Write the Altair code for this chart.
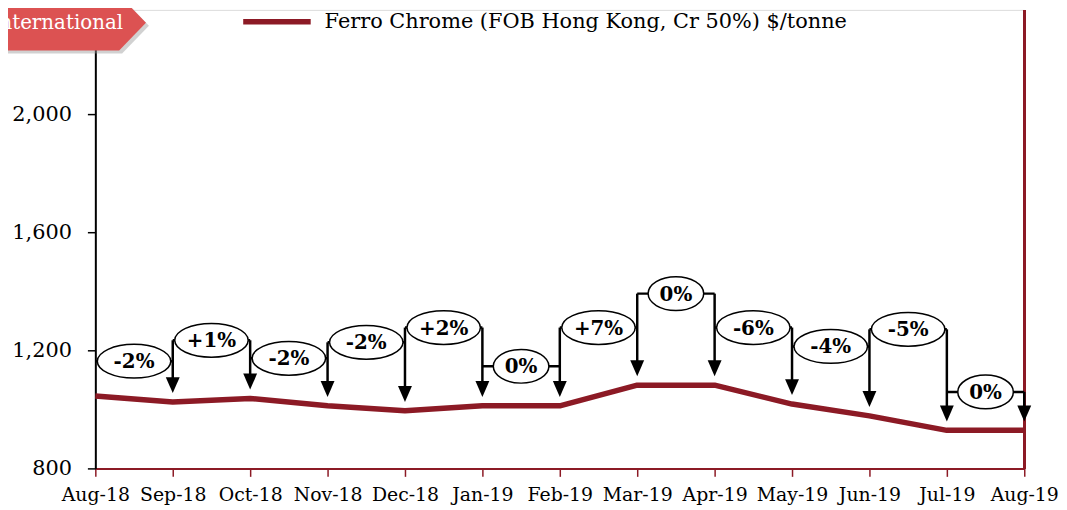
import json
import altair as alt
import pandas as pd

# ---------------- data ----------------
months = ["Aug-18", "Sep-18", "Oct-18", "Nov-18", "Dec-18", "Jan-19", "Feb-19",
          "Mar-19", "Apr-19", "May-19", "Jun-19", "Jul-19", "Aug-19"]
prices = [1045, 1025, 1037, 1012, 995, 1012, 1012, 1082, 1082, 1018, 978, 929, 929]
change_labels = ["-2%", "+1%", "-2%", "-2%", "+2%", "0%", "+7%", "0%", "-6%", "-4%", "-5%", "0%"]
bracket_levels = [1163, 1234, 1173, 1227, 1277, 1146, 1277, 1392, 1277, 1213, 1271, 1059]
y_ticks = [800, 1200, 1600, 2000]
series_name = "Ferro Chrome (FOB Hong Kong, Cr 50%) $/tonne"
tab_text = "International"

idx = list(range(len(months)))
line_df = pd.DataFrame({"idx": idx, "month": months, "price": prices})

br_df = pd.DataFrame({
    "start": idx[:-1],
    "end": idx[1:],
    "mid": [i + 0.5 for i in idx[:-1]],
    "level": bracket_levels,
    "label": change_labels,
})
br_df["wide"] = br_df["label"].str.len() > 2

arrow_rows = []
for i in idx[1:]:
    tops = [bracket_levels[i - 1]] + ([bracket_levels[i]] if i < len(bracket_levels) else [])
    arrow_rows.append({"idx": i, "top": max(tops), "price": prices[i]})
arrow_df = pd.DataFrame(arrow_rows)

# ---------------- style ----------------
FONT = "DejaVu Serif"
RED = "#8C1A25"
W, H = 936, 462

x_scale = alt.Scale(domain=[0, len(months) - 1], nice=False, zero=False)
y_scale = alt.Scale(domain=[800, 2353], nice=False, zero=False)

x_axis = alt.Axis(values=idx, labelExpr=json.dumps(months) + "[datum.value]",
                  title=None, grid=False, tickSize=8, tickColor=RED, tickWidth=1.5,
                  domainColor=RED, domainWidth=2, labelFont=FONT, labelFontSize=19,
                  labelColor="black", labelPadding=9, labelAngle=0,
                  labelOverlap=False, labelBound=False, labelFlush=False)
y_axis = alt.Axis(values=y_ticks, format=",.0f", title=None, grid=False, tickSize=8,
                  tickColor="black", tickWidth=1.5, domainColor="black", domainWidth=2,
                  labelFont=FONT, labelFontSize=21, labelColor="black", labelPadding=16)


def X(field):
    return alt.X(field, type="quantitative", scale=x_scale, axis=x_axis, title=None)


def Y(field):
    return alt.Y(field, type="quantitative", scale=y_scale, axis=y_axis, title=None)


line = alt.Chart(line_df).mark_line(color=RED, strokeWidth=5.5, strokeJoin="round").encode(
    x=X("idx"), y=Y("price"))

right_border = alt.Chart(line_df).mark_rule(color=RED, strokeWidth=2.5).encode(
    x=alt.datum(len(months) - 1))

bracket_h = alt.Chart(br_df).mark_rule(color="black", strokeWidth=2.5).encode(
    x=X("start"), x2="end", y=Y("level"))

arrow_v = alt.Chart(arrow_df).mark_rule(color="black", strokeWidth=2.5, y2Offset=-14).encode(
    x=X("idx"), y=Y("top"), y2="price")

arrow_head = alt.Chart(arrow_df).mark_point(
    shape="M-7,-16L7,-16L0,0Z", size=4, filled=True, color="black", opacity=1,
    yOffset=-9).encode(x=X("idx"), y=Y("price"))

ell_wide = alt.Chart(br_df).transform_filter("datum.wide").mark_point(
    shape="M-37,0A37,17 0 1,0 37,0A37,17 0 1,0 -37,0Z", size=4, filled=True,
    fill="white", stroke="black", strokeWidth=1.5, opacity=1).encode(
    x=X("mid"), y=Y("level"))

ell_narrow = alt.Chart(br_df).transform_filter("!datum.wide").mark_point(
    shape="M-28,0A28,17 0 1,0 28,0A28,17 0 1,0 -28,0Z", size=4, filled=True,
    fill="white", stroke="black", strokeWidth=1.5, opacity=1).encode(
    x=X("mid"), y=Y("level"))

labels = alt.Chart(br_df).mark_text(font=FONT, fontSize=20, fontWeight="bold",
                                    color="black", baseline="middle", dy=1).encode(
    x=X("mid"), y=Y("level"), text="label:N")

# decorative tab (top-left)
tab_df = pd.DataFrame({"t": [tab_text]})
tab_shadow = alt.Chart(tab_df).mark_point(
    shape="M-110,-15L24,-15L51,13L24,41L-110,41Z", size=4, filled=True,
    color="#999999", opacity=0.45).encode(x=alt.value(3), y=alt.value(3))
tab = alt.Chart(tab_df).mark_point(
    shape="M-110,-15L24,-15L51,13L24,41L-110,41Z", size=4, filled=True,
    color="#DC5252", opacity=1).encode(x=alt.value(0), y=alt.value(0))
tab_label = alt.Chart(tab_df).mark_text(font=FONT, fontSize=20, color="white",
                                        align="right", baseline="middle").encode(
    x=alt.value(28), y=alt.value(13), text="t:N")

# legend
leg_df = pd.DataFrame({"s": [series_name]})
leg_line = alt.Chart(leg_df).mark_rule(color=RED, strokeWidth=5.5).encode(
    x=alt.value(149), x2=alt.value(217), y=alt.value(12))
leg_text = alt.Chart(leg_df).mark_text(font=FONT, fontSize=21, color="black",
                                       align="left", baseline="middle").encode(
    x=alt.value(231), y=alt.value(12), text="s:N")

chart = alt.layer(
    line, right_border, bracket_h, arrow_v, arrow_head, ell_wide, ell_narrow, labels,
    tab_shadow, tab, tab_label, leg_line, leg_text
).properties(
    width=W, height=H,
    autosize=alt.AutoSizeParams(type="none"),
    padding={"left": 88, "top": 0, "right": 35, "bottom": 40},
).configure_view(stroke=None).configure(background="white")

chart.save("out.html", embed_options={"renderer": "svg", "actions": False})
